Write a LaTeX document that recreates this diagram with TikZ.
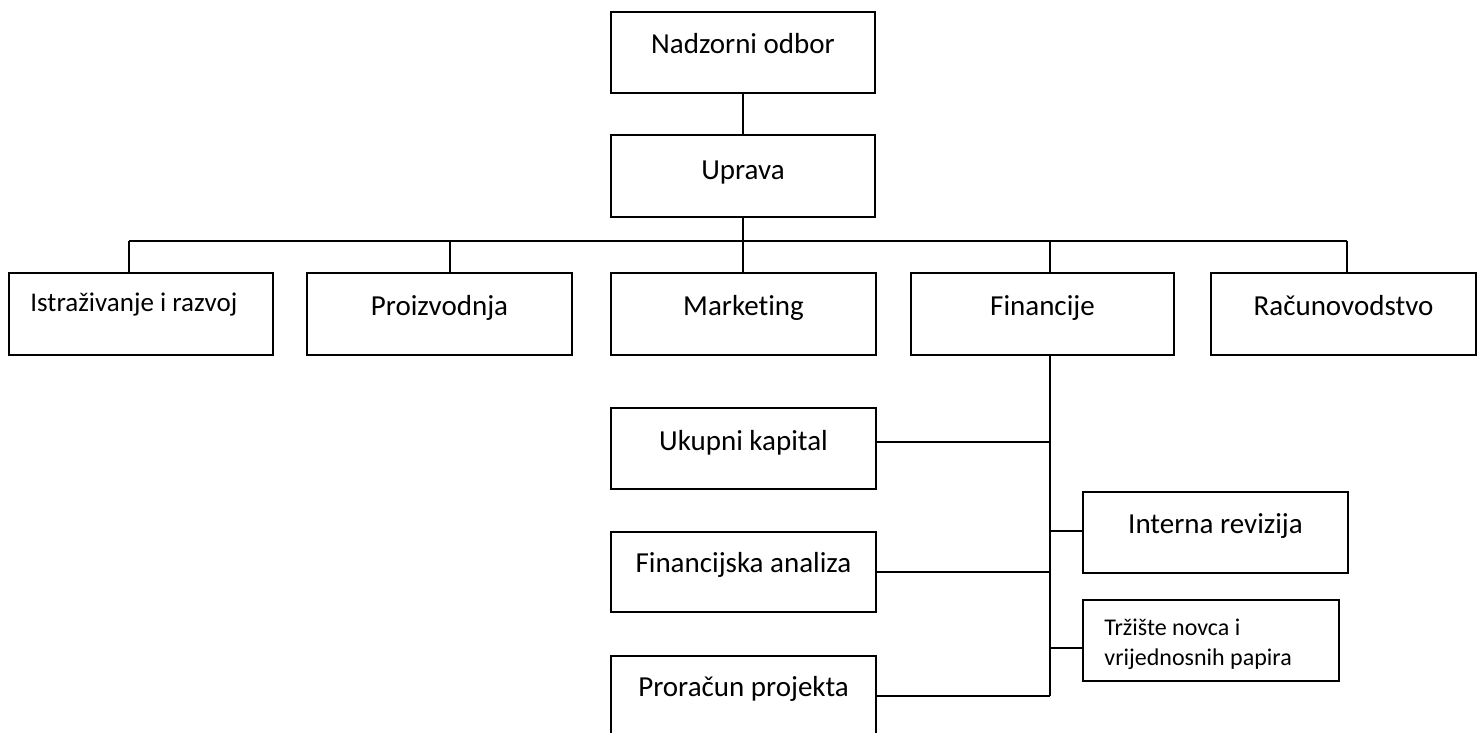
\documentclass[tikz,border=0pt]{standalone}
\usepackage{fontspec}
\setmainfont{Carlito}[Ligatures=NoCommon]
\usetikzlibrary{calc}
\begin{document}
\begin{tikzpicture}[x=1pt,y=-1pt,
  box/.style={draw, line width=1.6pt, inner sep=0pt, rectangle},
  conn/.style={line width=1.4pt},
  lbl/.style={anchor=base, inner sep=0pt, font=\fontsize{29}{34}\selectfont},
  lbls/.style={anchor=base west, inner sep=0pt, font=\fontsize{27}{30}\selectfont},
  lblt/.style={anchor=base west, inner sep=0pt, align=left, font=\fontsize{24}{30}\selectfont}]
\clip (0,0) rectangle (1481,733);
\fill[white] (0,0) rectangle (1481,733);
% boxes: centre x, centre y, width, height
\node[box, minimum width=264, minimum height=81] (nad) at (743,52.5) {};
\node[box, minimum width=264, minimum height=82] (upr) at (743,176) {};
\node[box, minimum width=264, minimum height=82] (istr) at (141,314) {};
\node[box, minimum width=265, minimum height=82] (proi) at (439.5,314) {};
\node[box, minimum width=265, minimum height=82] (mark) at (743.5,314) {};
\node[box, minimum width=263, minimum height=82] (fin) at (1042.5,314) {};
\node[box, minimum width=265, minimum height=82] (racu) at (1343.5,314) {};
\node[box, minimum width=265, minimum height=81] (ukup) at (743.5,448.5) {};
\node[box, minimum width=265, minimum height=80] (fana) at (743.5,572) {};
\node[box, minimum width=265, minimum height=100] (pror) at (743.5,706) {};
\node[box, minimum width=265, minimum height=81] (intr) at (1215.5,532.5) {};
\node[box, minimum width=256, minimum height=81] (trz) at (1211,640.5) {};
% texts
\node[lbl] (tnad) at ($(nad.north)+(0,42)$) {Nadzorni odbor};
\node[lbl] (tupr) at ($(upr.north)+(0,45)$) {Uprava};
\node[lbls] (tistr) at ($(istr.north west)+(22,39)$) {Istraživanje i razvoj};
\node[lbl] (tproi) at ($(proi.north)+(0,43)$) {Proizvodnja};
\node[lbl] (tmark) at ($(mark.north)+(0,43)$) {Marketing};
\node[lbl] (tfin) at ($(fin.north)+(0,43)$) {Financije};
\node[lbl] (tracu) at ($(racu.north)+(0,43)$) {Računovodstvo};
\node[lbl] (tukup) at ($(ukup.north)+(0,43)$) {Ukupni kapital};
\node[lbl] (tfana) at ($(fana.north)+(0,41)$) {Financijska analiza};
\node[lbl] (tpror) at ($(pror.north)+(0,41)$) {Proračun projekta};
\node[lbl] (tintr) at ($(intr.north)+(0,42)$) {Interna revizija};
\node[lblt] (ttrz) at ($(trz.north west)+(22,66)$) {Tržište novca i\\vrijednosnih papira};
% bus coordinates
\coordinate (bm) at (743,241);
\coordinate (b1) at (129,241);
\coordinate (b2) at (450,241);
\coordinate (b3) at (743,241);
\coordinate (b4) at (1050,241);
\coordinate (b5) at (1347,241);
\coordinate (tr) at (1050,696);
% connectors
\draw[conn] (nad) -- (upr);
\draw[conn] (upr.south) -- (bm);
\draw[conn] (b1) -- (b5);
\draw[conn] (b1) -- (b1 |- istr.north);
\draw[conn] (b2) -- (b2 |- proi.north);
\draw[conn] (b3) -- (b3 |- mark.north);
\draw[conn] (b4) -- (b4 |- fin.north);
\draw[conn] (b5) -- (b5 |- racu.north);
\draw[conn] (fin.south -| tr) -- (tr);
\draw[conn] (ukup.east |- 0,442) -- (tr |- 0,442);
\draw[conn] (fana.east |- 0,572) -- (tr |- 0,572);
\draw[conn] (pror.east |- tr) -- (tr);
\draw[conn] (tr |- 0,531) -- (intr.west |- 0,531);
\draw[conn] (tr |- 0,648) -- (trz.west |- 0,648);
\end{tikzpicture}
\end{document}
